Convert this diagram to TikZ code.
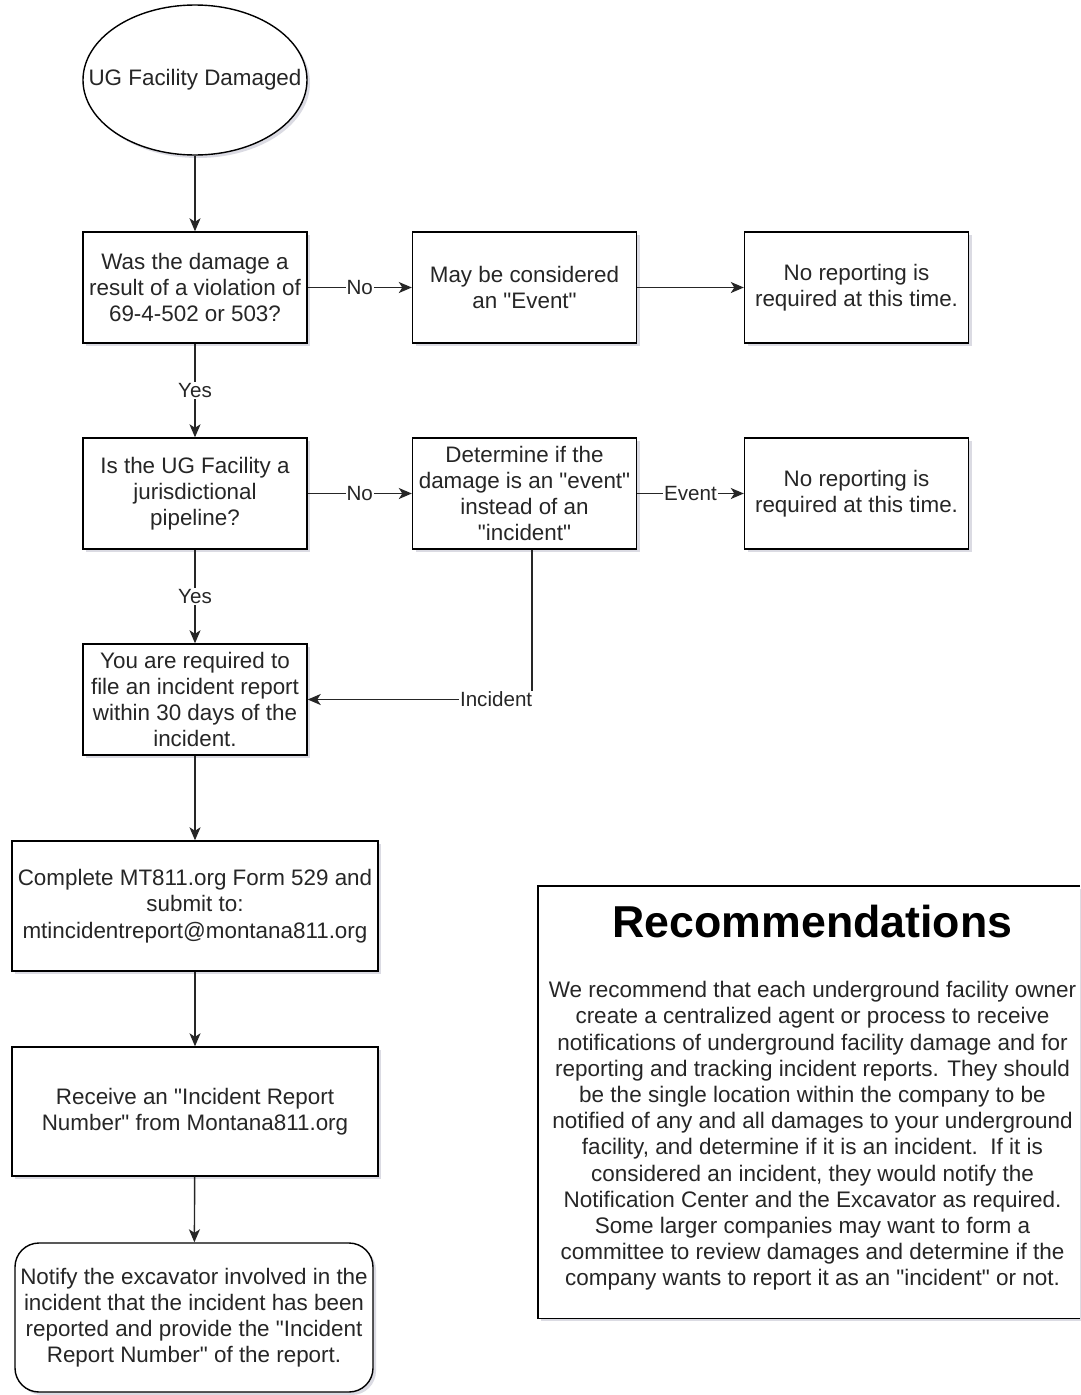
\documentclass[tikz,border=0pt]{standalone}
\usepackage{fontspec}
\newfontfamily\basefont{Liberation Sans}
\usetikzlibrary{shapes.geometric,arrows.meta,shadows}
\definecolor{txt}{HTML}{262626}
\definecolor{shd}{HTML}{9A9AB0}
\begin{document}
\begin{tikzpicture}[x=1pt,y=-1pt,
  every node/.style={text=txt},
  boxshadow/.style={drop shadow={shadow xshift=3pt,shadow yshift=-3pt,opacity=0.35,fill=shd}},
  flowbox/.style={draw=black,line width=1.4pt,fill=white,boxshadow,align=center,
    inner sep=0pt,minimum width=224pt,minimum height=111pt,
    font=\basefont\fontsize{22.4}{26.2}\selectfont},
  widebox/.style={flowbox,minimum width=366pt,minimum height=130pt},
  startnode/.style={flowbox,ellipse,minimum width=224pt,minimum height=150pt},
  conn/.style={draw=black!85,line width=1.4pt,-{Stealth[length=13pt,width=11pt,inset=3.5pt]}},
  lbl/.style={fill=white,inner sep=1pt,font=\basefont\fontsize{20.6}{24}\selectfont,text=txt},
  rectext/.style={align=center,inner sep=0pt,font=\basefont\fontsize{22.5}{26.2}\selectfont},
  rectitle/.style={inner sep=0pt,font=\basefont\fontsize{44.7}{50}\selectfont\bfseries}
]
\useasboundingbox[fill=white] (0,0) rectangle (1080,1395);

% flow nodes
\node[startnode] (start) at (195,80) {\makebox[0pt]{UG Facility Damaged}};
\node[flowbox] (q1) at (195,287.5) {Was the damage a\\result of a violation of\\69-4-502 or 503?};
\node[flowbox] (ev) at (524.5,287.5) {May be considered\\an "Event"};
\node[flowbox] (nr1) at (856.5,287.5) {No reporting is\\required at this time.};
\node[flowbox] (q2) at (195,493.5) {Is the UG Facility a\\jurisdictional\\pipeline?};
\node[flowbox] (det) at (524.5,493.5) {Determine if the\\damage is an "event"\\instead of an\\"incident"};
\node[flowbox] (nr2) at (856.5,493.5) {No reporting is\\required at this time.};
\node[flowbox] (req) at (195,699.5) {You are required to\\file an incident report\\within 30 days of the\\incident.};
\node[widebox] (comp) at (195,906) {Complete MT811.org Form 529 and\\submit to:\\mtincidentreport@montana811.org};
\node[widebox,minimum height=129pt] (recv) at (195,1111.5) {Receive an "Incident Report\\Number" from Montana811.org};
\node[flowbox,rounded corners=24pt,minimum width=358pt,minimum height=149pt] (notify) at (194,1317.5)
  {Notify the excavator involved in the\\incident that the incident has been\\reported and provide the "Incident\\Report Number" of the report.};

% connectors
\draw[conn] (start) -- (q1);
\draw[conn] (q1) -- node[lbl,pos=0.5] {No} (ev);
\draw[conn] (ev) -- (nr1);
\draw[conn] (q1) -- node[lbl,pos=0.5] {Yes} (q2);
\draw[conn] (q2) -- node[lbl,pos=0.5] {No} (det);
\draw[conn] (det) -- node[lbl,pos=0.5] {Event} (nr2);
\draw[conn] (q2) -- node[lbl,pos=0.5] {Yes} (req);
\draw[conn] ([xshift=7.5pt]det.south) |- node[lbl,pos=0.58] {Incident} (req.east);
\draw[conn] (req) -- (comp);
\draw[conn] (comp) -- (recv);
\draw[conn] (recv) -- (notify);

% recommendations panel (right side runs off the page)
\node[fill=white,boxshadow,inner sep=0pt,minimum width=542pt,minimum height=432pt] (recbox) at (809,1102) {};
\draw[black,line width=1.4pt] (recbox.north east) -- (recbox.north west) -- (recbox.south west) -- (recbox.south east);
\node[rectitle,text=black] (rtitle) at (812.5,922) {Recommendations};
\node[rectext] (rbody) at (812.5,1136) {We recommend that each underground facility owner\\create a centralized agent or process to receive\\notifications of underground facility damage and for\\reporting and tracking incident reports. They should\\be the single location within the company to be\\notified of any and all damages to your underground\\facility, and determine if it is an incident.\ \ If it is\\considered an incident, they would notify the\\Notification Center and the Excavator as required.\\Some larger companies may want to form a\\committee to review damages and determine if the\\company wants to report it as an "incident" or not.};
\end{tikzpicture}
\end{document}
